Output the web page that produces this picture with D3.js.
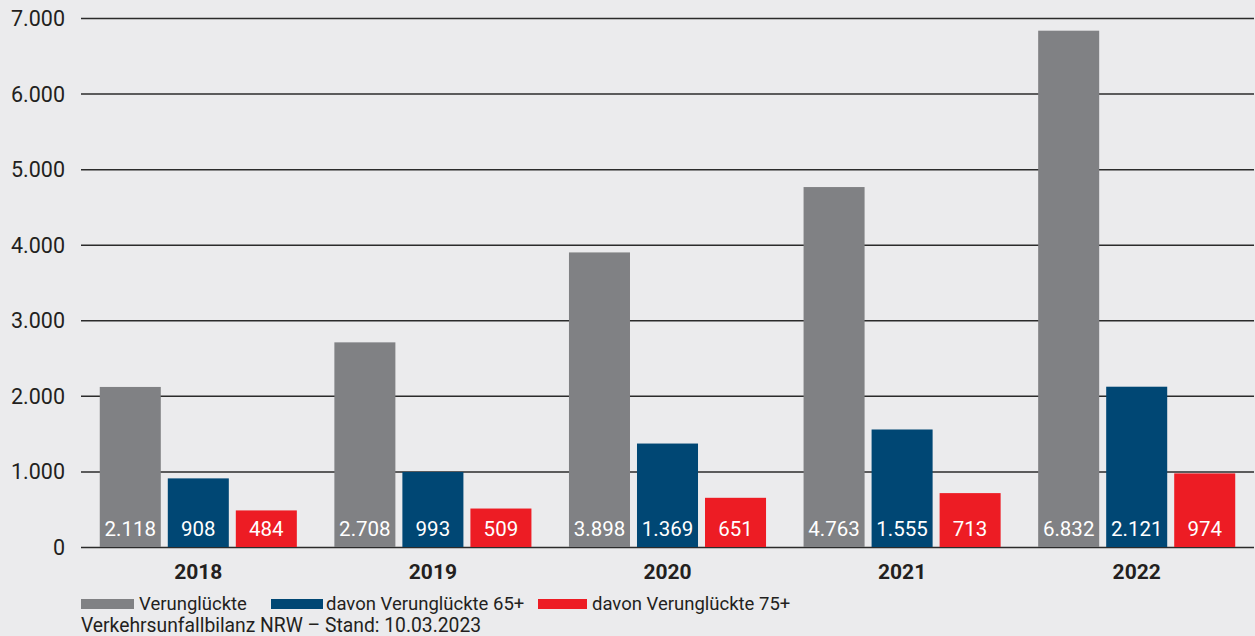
<!DOCTYPE html>
<html>
<head>
<meta charset="utf-8">
<script src="https://cdn.jsdelivr.net/npm/d3@7"></script>
<style>
  html, body { margin: 0; padding: 0; background: #ebebed; }
  svg { display: block; }
  text { font-family: Roboto, "Noto Sans", sans-serif; fill: #231f20; }
</style>
</head>
<body>
<svg id="chart" width="1255" height="636"></svg>
<script>
// Verunglückte in NRW, 2018–2022
const years = ["2018", "2019", "2020", "2021", "2022"];
const seriesNames = ["Verunglückte", "davon Verunglückte 65+", "davon Verunglückte 75+"];
const verunglueckte = [2118, 2708, 3898, 4763, 6832];
const ab65 = [908, 993, 1369, 1555, 2121];
const ab75 = [484, 509, 651, 713, 974];
const seriesColors = ["#808184", "#004774", "#ed1c24"];
const yTicks = [0, 1000, 2000, 3000, 4000, 5000, 6000, 7000];
const source = "Verkehrsunfallbilanz NRW – Stand: 10.03.2023";

const seriesValues = [verunglueckte, ab65, ab75];
const rows = years.map((y, i) => ({
  year: y,
  values: seriesValues.map((vals, s) => ({ key: seriesNames[s], value: vals[i], color: seriesColors[s] }))
}));

const svg = d3.select("#chart");
const W = 1255, H = 636;
const plot = { left: 81, right: 1254, top: 18, bottom: 547 };

svg.append("rect").attr("width", W).attr("height", H).attr("fill", "#ebebed");

const fmt = d3.formatLocale({ decimal: ",", thousands: ".", grouping: [3], currency: ["", "€"] }).format(",d");

const y = d3.scaleLinear().domain([0, 7000]).range([plot.bottom, plot.top]);

const x0 = d3.scaleBand()
  .domain(years)
  .range([plot.left, plot.right])
  .paddingInner(0.16)
  .paddingOuter(0.08);

const x1 = d3.scaleBand()
  .domain(seriesNames)
  .range([0, x0.bandwidth()])
  .paddingInner(7 / 68)
  .paddingOuter(0);

// horizontal gridlines with tick labels
const yAxis = d3.axisLeft(y)
  .tickValues(yTicks)
  .tickSize(-(plot.right - plot.left))
  .tickPadding(16)
  .tickFormat(fmt);

const gy = svg.append("g")
  .attr("transform", `translate(${plot.left},0)`)
  .call(yAxis);
gy.select(".domain").remove();
gy.selectAll(".tick line").attr("stroke", "#2b2b2b").attr("stroke-width", 1.5);
gy.selectAll(".tick text")
  .attr("font-size", 21.5)
  .attr("font-weight", 400)
  .attr("fill", "#231f20")
  .attr("dy", "0.35em")
  .attr("font-family", "Roboto, sans-serif");

// bars
const groups = svg.append("g").selectAll("g")
  .data(rows)
  .join("g")
  .attr("transform", d => `translate(${x0(d.year)},0)`);

groups.selectAll("rect")
  .data(d => d.values)
  .join("rect")
  .attr("x", d => x1(d.key))
  .attr("width", x1.bandwidth())
  .attr("y", d => y(d.value))
  .attr("height", d => y(0) - y(d.value))
  .attr("fill", d => d.color);

// value labels inside the bars
groups.selectAll("text.val")
  .data(d => d.values)
  .join("text")
  .attr("class", "val")
  .attr("x", d => x1(d.key) + x1.bandwidth() / 2)
  .attr("y", y(0) - 11.5)
  .attr("text-anchor", "middle")
  .attr("font-size", 20.5)
  .style("fill", "#ffffff")
  .text(d => fmt(d.value));

// year labels
const xAxis = d3.axisBottom(x0).tickSize(0).tickPadding(17);
const gx = svg.append("g")
  .attr("transform", `translate(0,${plot.bottom})`)
  .call(xAxis);
gx.select(".domain").remove();
gx.selectAll(".tick text")
  .attr("font-size", 21)
  .attr("font-weight", 700)
  .attr("fill", "#231f20")
  .attr("font-family", "Roboto, sans-serif");

// legend
const legendX = [81, 271, 538];
const legend = svg.append("g").selectAll("g")
  .data(seriesNames)
  .join("g")
  .attr("transform", (d, i) => `translate(${legendX[i]},599)`);
legend.append("rect")
  .attr("width", (d, i) => [53, 52, 49][i])
  .attr("height", 10)
  .attr("fill", (d, i) => seriesColors[i]);
legend.append("text")
  .attr("x", (d, i) => [58, 55, 54][i])
  .attr("y", 11)
  .attr("font-size", 18.5)
  .attr("font-weight", 400)
  .text(d => d);

// source note
svg.append("text")
  .attr("x", 81)
  .attr("y", 632)
  .attr("font-size", 19.3)
  .attr("font-weight", 400)
  .text(source);
</script>
</body>
</html>
